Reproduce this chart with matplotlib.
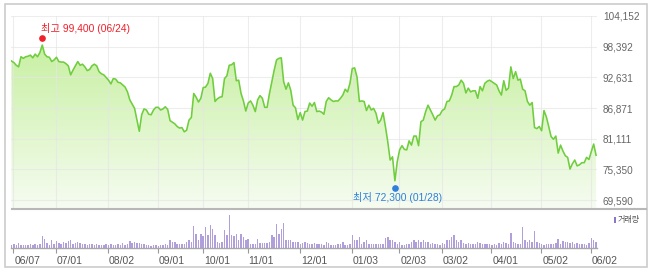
import numpy as np
import matplotlib
matplotlib.use("Agg")
import matplotlib.pyplot as plt
import matplotlib.transforms as mtransforms
from matplotlib.colors import LinearSegmentedColormap
from matplotlib.lines import Line2D
from matplotlib.patches import Rectangle

# daily close, 2021-06-07 .. 2022-06-08 (trading days)
price = [
    95700, 95400, 94900, 94600, 96500, 96200, 96500, 96600, 96800, 96300,
    97000, 96500, 97300, 98700, 97000, 96500, 96400, 95600, 95900, 96400,
    95600, 95500, 95500, 95200, 94800, 93100, 94000, 94800, 95600, 94900,
    95100, 94600, 93900, 94100, 94800, 95100, 94800, 93700, 93300, 93100,
    92600, 92100, 91400, 92400, 92300, 91700, 91600, 91200, 90800, 89900,
    88400, 87600, 86800, 84600, 82500, 85600, 86700, 86500, 85700, 85600,
    86500, 87000, 87000, 86500, 86700, 87100, 86600, 84500, 84200, 83900,
    83400, 83100, 83200, 82400, 82700, 84600, 85100, 89600, 88900, 88000,
    88700, 90700, 90800, 91500, 93400, 92400, 88100, 88600, 88900, 89000,
    92400, 92900, 94900, 95000, 95400, 92000, 92100, 89600, 88200, 86300,
    87800, 88200, 87400, 86200, 88400, 89200, 88700, 87000, 87000, 89600,
    91800, 94000, 95900, 96200, 96300, 91800, 90400, 91600, 90200, 87400,
    86900, 84700, 86000, 84600, 86200, 86300, 87800, 87200, 87900, 86200,
    86300, 86100, 85700, 88100, 88800, 88400, 88100, 88200, 88200, 88700,
    89300, 90400, 89900, 91500, 94300, 94400, 92700, 88100, 88200, 88100,
    86400, 87400, 86500, 86800, 85900, 84000, 84600, 86000, 83400, 80500,
    77100, 77700, 73200, 76800, 79000, 79800, 79100, 79000, 80700, 79900,
    81600, 81600, 79800, 84300, 84600, 86200, 87400, 86500, 85600, 84600,
    85400, 85600, 86400, 86700, 88100, 88200, 89300, 90900, 90900, 91200,
    92100, 91500, 89700, 90600, 89900, 90100, 90100, 88700, 90900, 90100,
    91500, 91900, 92100, 91800, 91500, 91200, 90100, 89300, 92000, 90200,
    90600, 94600, 92400, 93700, 92100, 92300, 90400, 90100, 88100, 87400,
    87900, 83200, 83000, 83400, 82600, 86400, 85200, 83400, 81500, 81000,
    81600, 78400, 79900, 78800, 77900, 77600, 75400, 76400, 77100, 76000,
    76200, 76600, 76600, 77600, 77200, 78700, 80100, 78000,
]

# volume (million shares)
volume = [
    3.5, 4.5, 3, 5, 3.5, 3, 3.5, 3, 4, 3.5,
    4.5, 3.5, 4, 11.7, 9, 5, 3.5, 8, 4, 7,
    5, 4, 6, 5, 7.5, 8, 4, 5, 6, 5,
    4, 4.5, 3.5, 4, 4, 3.5, 4, 3.5, 3.5, 3,
    4, 3, 4, 3.5, 3, 4, 3.5, 5, 3.5, 4,
    7, 5, 6, 5, 5, 4, 4, 3, 3.5, 2.5,
    3, 3, 2.5, 3, 3.5, 4, 3, 8, 6, 6,
    4, 4.5, 4, 4.5, 6, 8, 6, 21.7, 13.7, 8,
    14, 12, 21, 13, 22.7, 19, 12.7, 6, 5, 6,
    17.7, 12.7, 33.5, 12.7, 11.7, 14.3, 7.7, 14.3, 11, 7.7,
    9.3, 4.3, 4.3, 4.3, 9.3, 5, 5, 5, 5, 6,
    12.7, 11, 23.7, 14.3, 19.3, 25, 7.7, 7.7, 7.7, 6,
    6, 6, 4.3, 5, 6, 5, 4.3, 4.3, 5, 4.3,
    4.3, 4.3, 2.7, 6, 5, 2.7, 2.7, 2.7, 3.7, 4.3,
    6, 2.7, 2.7, 4.3, 13.3, 7.7, 8.3, 11, 4.3, 6,
    7.7, 3.7, 3.7, 3.7, 3.7, 3.7, 4.3, 4.3, 10.3, 11,
    8.3, 7.7, 6, 4.3, 6, 2.7, 2.7, 3.7, 4.3, 6,
    8.3, 6, 7.7, 6, 7.7, 6, 6, 4.3, 5, 4.3,
    4.3, 2.7, 5, 4.3, 8.3, 8.3, 11, 12.7, 7.7, 6,
    7.7, 5, 4.3, 5, 3.7, 4.3, 4.3, 6, 5, 3.7,
    3.7, 3.7, 4.3, 2.7, 3.7, 2.7, 5, 4.3, 6, 5,
    4.3, 15, 6, 5, 4.3, 3.7, 21, 7.7, 6, 7.7,
    6, 16.7, 6, 5, 4.3, 2.7, 3.7, 4.3, 3.7, 4.3,
    5, 9.3, 3.7, 7, 6, 6, 5, 6, 3.7, 5,
    4.3, 3.7, 4.3, 2.7, 5, 10.3, 8.3, 6,
]

date_labels = ["06/07", "07/01", "08/02", "09/01", "10/01", "11/01", "12/01",
               "01/03", "02/03", "03/02", "04/01", "05/02", "06/02"]
date_idx = [0, 18, 40, 61, 80, 99, 121, 143, 163, 181, 202, 223, 244]
yticks = [69590, 75350, 81111, 86871, 92631, 98392, 104152]

hi_idx, hi_val, hi_text = 13, 99400, "최고 99,400 (06/24)"
lo_idx, lo_val, lo_text = 162, 72300, "최저 72,300 (01/28)"

plt.rcParams["font.family"] = ["Liberation Sans", "Noto Sans CJK KR", "DejaVu Sans"]

W, H = 650, 271
def fx(px):
    return px / W
def fy(py):
    return 1 - py / H

fig = plt.figure(figsize=(6.5, 2.71), dpi=100)

# outer frame
fig.add_artist(Rectangle((fx(5), fy(267)), fx(647) - fx(5), fy(4) - fy(267),
                         transform=fig.transFigure, fill=False,
                         edgecolor="#cccccc", lw=1.2))

x = np.arange(len(price))
x0, x1 = -0.21, 247.4
y_lo, y_hi = 68088, 104152
tick_pos = np.array(date_idx) + 0.8  # gridlines sit a bit right of the point

# price panel
ax = fig.add_axes([fx(11), fy(208), (597 - 11) / W, (208 - 16) / H])
ax.plot(x, price, color="#6fcd3e", lw=1.15, zorder=3)
poly = ax.fill_between(x, price, y_lo, color="none", lw=0)
cmap = LinearSegmentedColormap.from_list("g", ["#f6fcf1", "#c0ee95"])
grad = np.linspace(0, 1, 256).reshape(-1, 1)
im = ax.imshow(grad, cmap=cmap, aspect="auto", origin="lower",
               extent=[x0, x1, y_lo, y_hi], zorder=2)
im.set_clip_path(poly.get_paths()[0], transform=ax.transData)
ax.set_xlim(x0, x1)
ax.set_ylim(y_lo, y_hi)
ax.set_yticks(yticks)
ax.set_yticklabels([f"{v:,}" for v in yticks])
ax.yaxis.tick_right()
ax.tick_params(axis="y", length=0, pad=4.3, labelsize=7.2, labelcolor="#666666")
ax.set_xticks(tick_pos)
ax.tick_params(axis="x", length=0, labelbottom=False)
ax.set_axisbelow(False)
ax.grid(True, color="#e6e6e6", lw=0.8, alpha=0.7)
for s in ax.spines.values():
    s.set_visible(False)

# high / low markers
up = mtransforms.offset_copy(ax.transData, fig=fig, x=0, y=3, units="dots")
dn = mtransforms.offset_copy(ax.transData, fig=fig, x=0, y=-2, units="dots")
ax.plot(hi_idx, hi_val, "o", color="#f0202a", ms=3.8, transform=up, zorder=5, clip_on=False)
ax.plot(lo_idx, lo_val, "o", color="#2f7fdc", ms=3.8, transform=dn, zorder=5, clip_on=False)
ax.annotate(hi_text, xy=(hi_idx, hi_val), xytext=(-1, 9), textcoords="offset points",
            ha="left", va="center", fontsize=7.4, color="#f0202a", annotation_clip=False)
ax.annotate(lo_text, xy=(lo_idx, lo_val), xytext=(2, -8.7), textcoords="offset points",
            ha="center", va="center", fontsize=7.4, color="#2f7fdc", annotation_clip=False)

# separator between panels
fig.add_artist(Line2D([fx(12), fx(646)], [fy(208.5), fy(208.5)], color="#b8b8b8", lw=1.5))

# volume panel
vax = fig.add_axes([fx(11), fy(248), (597 - 11) / W, (248 - 212) / H])
vax.bar(x, volume, width=0.6, color="#b09fda", lw=0)
vax.set_xlim(x0, x1)
vax.set_ylim(0, 36)
vax.set_yticks([])
vax.set_xticks(tick_pos)
vax.set_xticklabels(date_labels)
vax.tick_params(axis="x", length=3.5, width=0.8, color="#999999", pad=2.5,
                labelsize=7.5, labelcolor="#555555")
shift = mtransforms.ScaledTranslation(1 / 100, 0, fig.dpi_scale_trans)
for lab in vax.get_xticklabels():
    lab.set_ha("left")
    lab.set_transform(lab.get_transform() + shift)
for s in ["top", "left", "right"]:
    vax.spines[s].set_visible(False)
vax.spines["bottom"].set_color("#a8a8a8")
vax.spines["bottom"].set_linewidth(1.0)
vax.patch.set_alpha(0)

# volume legend
fig.add_artist(Rectangle((fx(614.3), fy(222.7)), fx(616.2) - fx(614.3), fy(216.7) - fy(222.7),
                         transform=fig.transFigure, color="#8c74c6", lw=0))
fig.text(fx(618), fy(219.7), "거래량", fontsize=5.8, color="#555555", va="center", ha="left")

fig.savefig("out.png", dpi=100)
